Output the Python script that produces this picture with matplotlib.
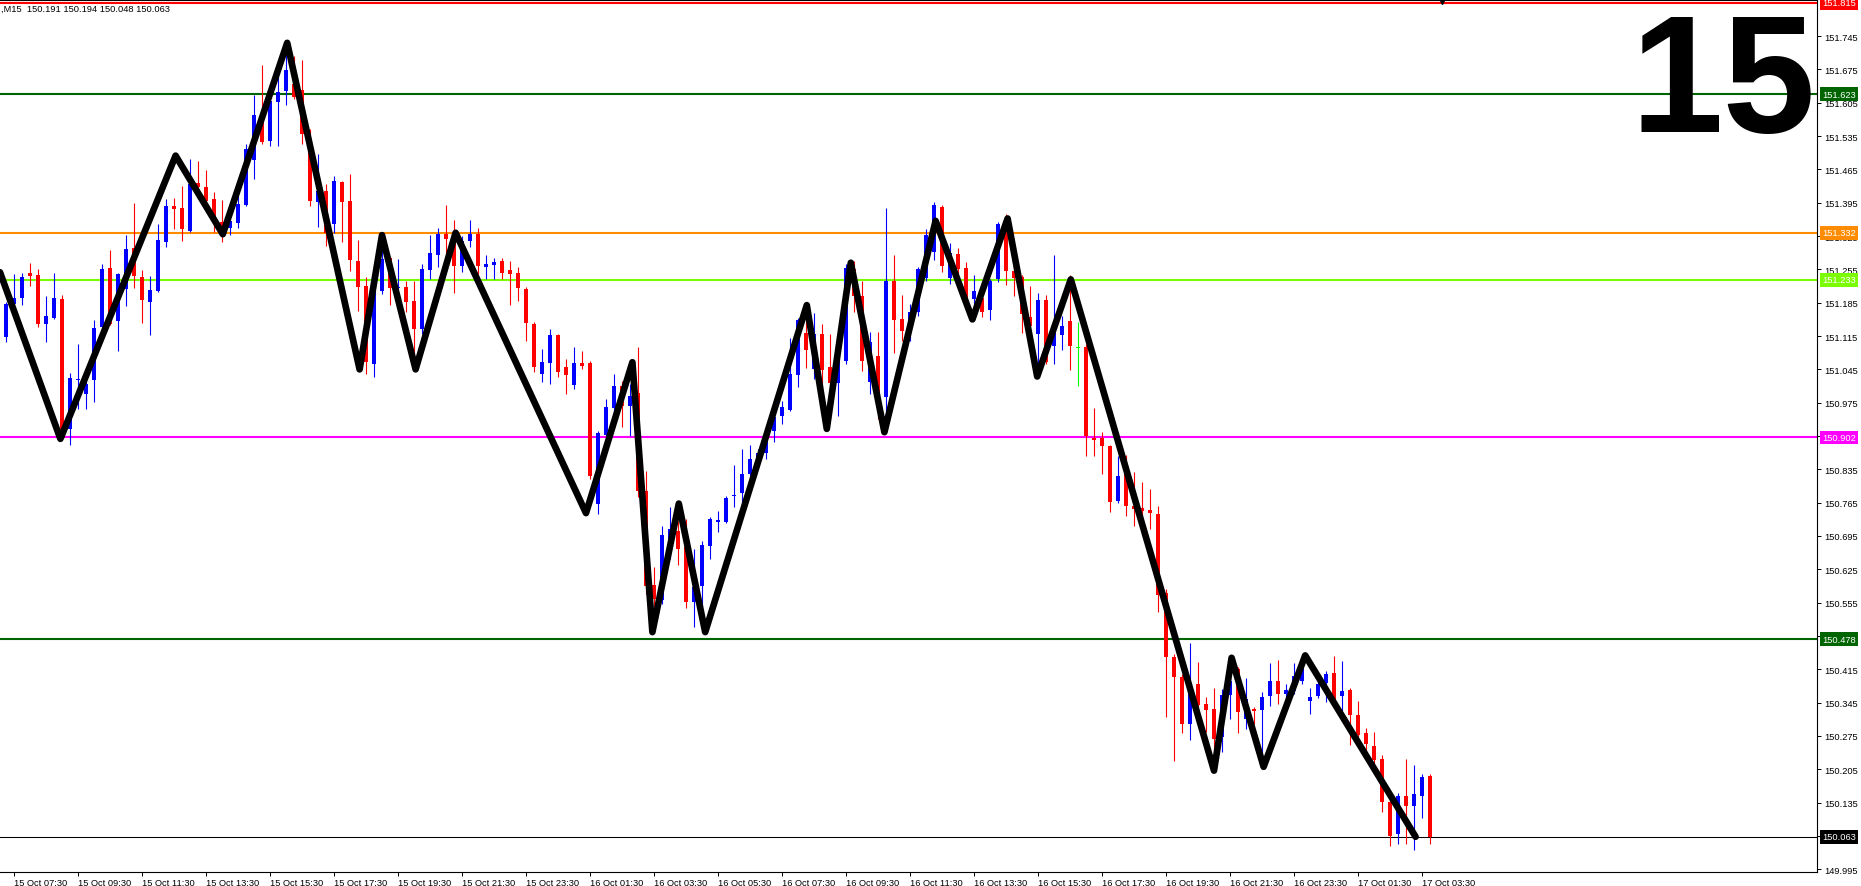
import numpy as np
import matplotlib
matplotlib.use('Agg')
import matplotlib.pyplot as plt
from matplotlib.transforms import blended_transform_factory

plt.rcParams['font.family'] = ['Liberation Sans', 'DejaVu Sans']

# USDJPY M15 candles, 15 Oct 07:00 .. 17 Oct 03:45 (one value per bar)
opens = [
    151.136, 151.113, 151.182, 151.195, 151.247, 151.243, 151.140, 151.153, 151.193, 150.920,
    151.023, 150.993, 151.023, 151.134, 151.258, 151.147, 151.214, 151.300, 151.239, 151.187,
    151.210, 151.313, 151.388, 151.384, 151.336, 151.436, 151.428, 151.403, 151.354, 151.342,
    151.352, 151.390, 151.485, 151.577, 151.525, 151.607, 151.630, 151.644, 151.632, 151.529,
    151.397, 151.420, 151.350, 151.438, 151.399, 151.273, 151.220, 151.056, 151.210, 151.279,
    151.216, 151.218, 151.189, 151.130, 151.254, 151.285, 151.329, 151.319, 151.262, 151.315,
    151.329, 151.260, 151.264, 151.273, 151.254, 151.247, 151.214, 151.140, 151.035, 151.058,
    151.117, 151.050, 151.012, 151.058, 151.058, 150.762, 150.907, 150.964, 151.010, 150.968,
    150.995, 150.789, 150.592, 150.560, 150.668, 150.705, 150.672, 150.556, 150.590, 150.674,
    150.724, 150.724, 150.779, 150.785, 150.825, 150.846, 150.869, 150.915, 150.947, 150.959,
    151.033, 151.121, 151.046, 151.119, 151.050, 151.016, 151.063, 151.256, 151.199, 151.018,
    151.073, 150.987, 151.231, 151.151, 151.130, 151.166, 151.237, 151.291, 151.386, 151.237,
    151.287, 151.258, 151.193, 151.195, 151.170, 151.235, 151.354, 151.252, 151.239, 151.155,
    151.119, 151.191, 151.094, 151.117, 151.147, 151.090, 151.092, 150.901, 150.901, 150.884,
    150.768, 150.825, 150.758, 150.754, 150.749, 150.741, 150.575, 150.441, 150.399, 150.300,
    150.384, 150.342, 150.331, 150.272, 150.360, 150.415, 150.310, 150.331, 150.329, 150.359,
    150.390, 150.363, 150.369, 150.390, 150.348, 150.359, 150.386, 150.407, 150.359, 150.371,
    150.319, 150.281, 150.254, 150.226, 150.136, 150.069, 150.149, 150.128, 150.149, 150.191,
]
highs = [
    151.151, 151.187, 151.245, 151.247, 151.268, 151.256, 151.199, 151.247, 151.201, 151.037,
    151.098, 151.031, 151.149, 151.266, 151.296, 151.247, 151.327, 151.394, 151.254, 151.241,
    151.350, 151.403, 151.405, 151.430, 151.487, 151.483, 151.464, 151.418, 151.401, 151.361,
    151.411, 151.518, 151.621, 151.684, 151.619, 151.665, 151.712, 151.703, 151.695, 151.550,
    151.497, 151.434, 151.451, 151.441, 151.455, 151.317, 151.239, 151.218, 151.325, 151.281,
    151.277, 151.231, 151.231, 151.266, 151.327, 151.342, 151.390, 151.359, 151.325, 151.359,
    151.342, 151.285, 151.279, 151.279, 151.273, 151.260, 151.218, 151.145, 151.088, 151.130,
    151.120, 151.067, 151.092, 151.084, 151.063, 150.915, 150.983, 151.035, 151.020, 151.014,
    151.092, 150.831, 150.630, 150.716, 150.756, 150.726, 150.731, 150.668, 150.684, 150.735,
    150.748, 150.779, 150.844, 150.878, 150.886, 150.878, 150.909, 150.962, 150.978, 151.111,
    151.153, 151.187, 151.163, 151.140, 151.119, 151.073, 151.266, 151.273, 151.231, 151.123,
    151.123, 151.384, 151.285, 151.201, 151.182, 151.260, 151.340, 151.396, 151.390, 151.310,
    151.300, 151.270, 151.243, 151.214, 151.235, 151.354, 151.371, 151.283, 151.243, 151.220,
    151.205, 151.201, 151.285, 151.157, 151.243, 151.145, 151.098, 150.964, 150.913, 150.887,
    150.863, 150.865, 150.829, 150.808, 150.793, 150.758, 150.584, 150.447, 150.405, 150.470,
    150.430, 150.356, 150.375, 150.373, 150.436, 150.420, 150.396, 150.335, 150.367, 150.428,
    150.434, 150.384, 150.428, 150.447, 150.375, 150.394, 150.411, 150.443, 150.432, 150.375,
    150.348, 150.291, 150.283, 150.235, 150.142, 150.155, 150.226, 150.214, 150.195, 150.194,
]
lows = [
    151.098, 151.103, 151.180, 151.180, 151.220, 151.134, 151.103, 151.151, 150.899, 150.886,
    150.962, 150.962, 150.976, 151.130, 151.138, 151.084, 151.178, 151.216, 151.142, 151.117,
    151.208, 151.302, 151.340, 151.315, 151.334, 151.403, 151.382, 151.334, 151.313, 151.327,
    151.342, 151.388, 151.445, 151.518, 151.514, 151.514, 151.600, 151.613, 151.518, 151.388,
    151.344, 151.304, 151.331, 151.313, 151.252, 151.168, 151.035, 151.029, 151.203, 151.180,
    151.214, 151.166, 151.042, 151.119, 151.235, 151.260, 151.277, 151.205, 151.249, 151.302,
    151.245, 151.235, 151.235, 151.235, 151.180, 151.189, 151.105, 151.039, 151.018, 151.014,
    151.029, 150.993, 151.004, 151.046, 150.815, 150.741, 150.903, 150.955, 150.924, 150.905,
    150.777, 150.573, 150.500, 150.552, 150.647, 150.634, 150.544, 150.504, 150.504, 150.647,
    150.703, 150.722, 150.756, 150.762, 150.815, 150.836, 150.857, 150.892, 150.930, 150.957,
    151.008, 151.048, 151.025, 150.993, 150.941, 150.947, 151.056, 151.166, 151.042, 150.993,
    150.941, 150.941, 151.079, 151.105, 151.105, 151.157, 151.231, 151.275, 151.249, 151.224,
    151.228, 151.182, 151.172, 151.155, 151.149, 151.228, 151.222, 151.199, 151.121, 151.119,
    151.056, 151.056, 151.056, 151.086, 151.044, 151.010, 150.863, 150.863, 150.825, 150.745,
    150.764, 150.737, 150.716, 150.697, 150.710, 150.535, 150.315, 150.222, 150.281, 150.266,
    150.310, 150.283, 150.226, 150.241, 150.310, 150.281, 150.289, 150.300, 150.220, 150.338,
    150.342, 150.352, 150.363, 150.384, 150.321, 150.354, 150.346, 150.342, 150.327, 150.256,
    150.258, 150.241, 150.205, 150.115, 150.044, 150.048, 150.048, 150.035, 150.102, 150.048,
]
closes = [
    151.111, 151.182, 151.195, 151.239, 151.241, 151.140, 151.157, 151.195, 150.920, 151.027,
    151.025, 151.014, 151.132, 151.256, 151.140, 151.245, 151.298, 151.241, 151.191, 151.212,
    151.317, 151.388, 151.382, 151.340, 151.434, 151.428, 151.399, 151.354, 151.334, 151.356,
    151.392, 151.508, 151.579, 151.523, 151.609, 151.628, 151.674, 151.617, 151.539, 151.399,
    151.420, 151.331, 151.441, 151.397, 151.275, 151.218, 151.060, 151.214, 151.277, 151.216,
    151.218, 151.187, 151.130, 151.256, 151.289, 151.329, 151.319, 151.262, 151.315, 151.329,
    151.262, 151.266, 151.270, 151.247, 151.245, 151.216, 151.142, 151.050, 151.060, 151.117,
    151.039, 151.033, 151.058, 151.052, 150.821, 150.911, 150.966, 151.010, 150.968, 150.989,
    150.789, 150.590, 150.563, 150.697, 150.710, 150.668, 150.556, 150.588, 150.676, 150.731,
    150.729, 150.774, 150.781, 150.825, 150.857, 150.869, 150.899, 150.945, 150.966, 151.035,
    151.149, 151.086, 151.119, 151.044, 151.016, 151.063, 151.258, 151.199, 151.063, 151.103,
    150.987, 151.231, 151.149, 151.126, 151.166, 151.256, 151.327, 151.390, 151.262, 151.289,
    151.256, 151.195, 151.210, 151.166, 151.231, 151.350, 151.252, 151.237, 151.161, 151.136,
    151.191, 151.060, 151.121, 151.136, 151.094, 151.090, 150.905, 150.896, 150.884, 150.766,
    150.821, 150.758, 150.751, 150.747, 150.743, 150.571, 150.441, 150.399, 150.300, 150.384,
    150.339, 150.329, 150.268, 150.360, 150.390, 150.325, 150.352, 150.327, 150.356, 150.390,
    150.363, 150.371, 150.400, 150.432, 150.356, 150.384, 150.405, 150.350, 150.369, 150.319,
    150.277, 150.258, 150.224, 150.136, 150.065, 150.149, 150.128, 150.153, 150.188, 150.063,
]

# hand-drawn zigzag (bar position, price)
zz_bar = [0.25, 7.8, 22.2, 28.1, 36.15, 45.2, 48.0, 52.2, 57.2, 73.5, 79.3, 81.8, 85.1, 88.4,
          101.1, 103.6, 106.6, 110.8, 117.2, 121.8, 126.2, 129.9, 134.1, 152.0, 154.2, 158.2,
          163.4, 177.2]
zz_price = [151.249, 150.899, 151.494, 151.329, 151.731, 151.045, 151.327, 151.045, 151.332,
            150.743, 151.060, 150.493, 150.763, 150.493, 151.180, 150.920, 151.269, 150.913,
            151.357, 151.150, 151.362, 151.030, 151.234, 150.202, 150.439, 150.210, 150.444,
            150.063]

# horizontal levels
levels = [151.815, 151.623, 151.332, 151.233, 150.902, 150.478, 150.063]
level_colors = ['#FF0000', '#006400', '#FF8C00', '#7CFC00', '#FF00FF', '#006400', '#000000']

price_ticks = [149.995, 150.065, 150.135, 150.205, 150.275, 150.345, 150.415, 150.485, 150.555,
               150.625, 150.695, 150.765, 150.835, 150.905, 150.975, 151.045, 151.115, 151.185,
               151.255, 151.325, 151.395, 151.465, 151.535, 151.605, 151.675, 151.745]
time_labels = ['15 Oct 07:30', '15 Oct 09:30', '15 Oct 11:30', '15 Oct 13:30', '15 Oct 15:30',
               '15 Oct 17:30', '15 Oct 19:30', '15 Oct 21:30', '15 Oct 23:30', '16 Oct 01:30',
               '16 Oct 03:30', '16 Oct 05:30', '16 Oct 07:30', '16 Oct 09:30', '16 Oct 11:30',
               '16 Oct 13:30', '16 Oct 15:30', '16 Oct 17:30', '16 Oct 19:30', '16 Oct 21:30',
               '16 Oct 23:30', '17 Oct 01:30', '17 Oct 03:30']
header = ',M15  150.191 150.194 150.048 150.063'
period_text = '15'
##################################################

W, H = 1861, 887
fig = plt.figure(figsize=(W / 100, H / 100), dpi=100)
ax = fig.add_axes([0, 14 / H, 1817 / W, 872 / H])
ax.set_xlim(0.25, 227.375)
ax.set_ylim(149.989, 151.821)

o = np.array(opens)
h = np.array(highs)
l = np.array(lows)
c = np.array(closes)
x = np.arange(len(o))
cols = np.where(c > o, '#0000FF', np.where(c < o, '#FF0000', '#00FF00'))

# level lines under the candles
for p, col in zip(levels, level_colors):
    ax.axhline(p, color=col, lw=0.75 if col == '#000000' else 1.5, zorder=1)

# candles
ax.vlines(x, l, h, colors=cols, lw=0.8, zorder=2)
ax.bar(x, np.maximum(np.abs(c - o), 0.0022), 0.62, bottom=np.minimum(o, c),
       color=cols, linewidth=0, zorder=2)

# zigzag
ax.plot(zz_bar, zz_price, color='black', lw=4.8, solid_capstyle='round',
        solid_joinstyle='round', zorder=4)

# little arrow on the top line
ax.plot([180.5], [151.818], marker='v', color='black', ms=4, clip_on=False, zorder=5)

# axes styling
ax.spines['left'].set_visible(False)
for s in ['top', 'right', 'bottom']:
    ax.spines[s].set_linewidth(0.8)
ax.yaxis.tick_right()
ax.set_yticks(price_ticks)
ax.set_yticklabels(['%.3f' % t for t in price_ticks])
ax.tick_params(axis='y', direction='out', length=3, width=0.7, pad=2, labelsize=6.7)
ax.set_xticks([2 + 8 * k for k in range(len(time_labels))])
ax.set_xticklabels(time_labels)
ax.tick_params(axis='x', direction='out', length=3, width=0.7, pad=1, labelsize=6.7)
for lab in ax.get_xticklabels():
    lab.set_horizontalalignment('left')

# price boxes on the right scale
trans = blended_transform_factory(ax.transAxes, ax.transData)
for p, col in zip(levels, level_colors):
    ax.annotate('%.3f' % p, xy=(1, p), xycoords=trans, xytext=(5, 0),
                textcoords='offset pixels', ha='left', va='center', fontsize=6.7,
                color='white', annotation_clip=False, zorder=6,
                bbox=dict(boxstyle='square,pad=0.25', fc=col, ec='none'))

fig.text(1 / W, 1 - 9 / H, header, fontsize=6.7, ha='left', va='center')
fig.text(1816 / W, 1 - 132 / H, period_text, fontsize=120, fontweight='bold',
         ha='right', va='baseline')

fig.savefig('out.png', dpi=100, facecolor='white')
